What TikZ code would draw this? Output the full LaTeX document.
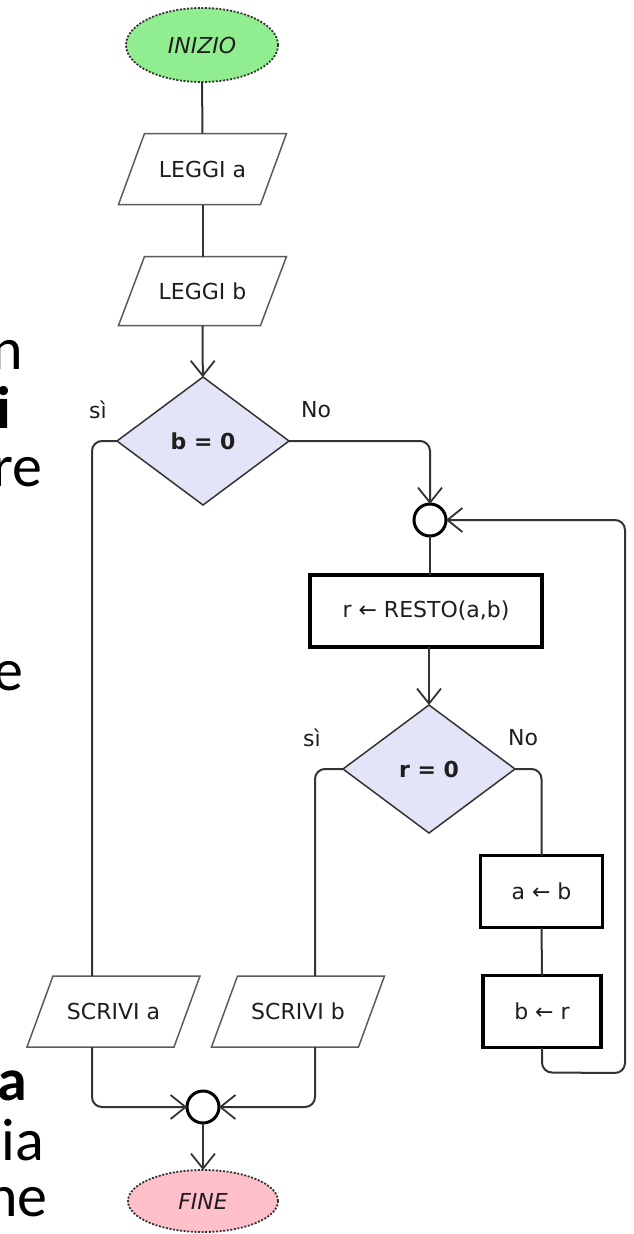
\documentclass[tikz,border=0pt]{standalone}
\usepackage{fontspec}
\setmainfont{DejaVu Sans}
\newfontfamily\fragfont{Carlito}
\usetikzlibrary{shapes.geometric,arrows.meta}
\definecolor{lc}{HTML}{333333}
\definecolor{tc}{HTML}{1E1E1E}
\definecolor{startc}{HTML}{90EE90}
\definecolor{endc}{HTML}{FFC0CB}
\definecolor{decc}{HTML}{E4E4F8}
\tikzset{
  conn/.style={draw=lc, line width=2pt, rounded corners=10pt},
  arr/.style={conn, -{Straight Barb[length=15pt,width=24pt,line width=1.8pt]}},
  term/.style={ellipse, draw=lc, line width=1.8pt, dash pattern=on 2pt off 1.6pt, inner sep=0pt, outer sep=0pt,
     minimum width=152pt, minimum height=74pt, font=\fontsize{22pt}{26pt}\selectfont\itshape, text=tc},
  iobox/.style={rectangle, inner sep=0pt, outer sep=0pt, minimum height=71pt,
     font=\fontsize{22pt}{26pt}\selectfont, text=tc},
  ioline/.style={draw=lc!80, line width=1.5pt, line join=miter},
  procbox/.style={rectangle, draw=black, line width=3.4pt, fill=white, inner sep=0pt, outer sep=0pt,
     minimum height=72pt, font=\fontsize{22pt}{26pt}\selectfont, text=tc},
  decision/.style={diamond, draw=lc, line width=1.5pt, fill=decc, inner sep=0pt, outer sep=0pt,
     minimum width=172pt, minimum height=128pt, font=\fontsize{22pt}{26pt}\selectfont\bfseries, text=tc},
  junction/.style={circle, draw=black, line width=3pt, fill=white, inner sep=0pt, outer sep=0pt, minimum size=32pt},
  lbl/.style={font=\fontsize{22pt}{26pt}\selectfont, text=tc, inner sep=0pt},
  frag/.style={font=\fontsize{60pt}{64pt}\fragfont, text=black, inner sep=0pt, anchor=base east},
}
\begin{document}
\begin{tikzpicture}[x=1pt,y=-1pt]
\useasboundingbox (0,0) rectangle (633,1234);
\clip (0,0) rectangle (633,1234);
\fill[white] (0,0) rectangle (633,1234);

% text fragments at the left edge
\node[frag] (f1) at (23,369) {n};
\node[frag] (f2) at (11,428) {\bfseries i};
\node[frag] (f3) at (43,486) {re};
\node[frag] (f4) at (24,690) {e};
\node[frag] (f5) at (27,1100) {\bfseries a};
\node[frag] (f6) at (44,1160) {ia};
\node[frag] (f7) at (48,1216) {ne};

% nodes
\node[term, fill=startc] (ini) at (202,45) {INIZIO};
\node[iobox, minimum width=142pt] (la) at (202.5,169) {LEGGI a};
\node[iobox, minimum width=142pt, minimum height=69pt] (lb) at (202.5,291) {LEGGI b};
\node[decision] (d1) at (203,441) {b = 0};
\node[lbl] (si1) at (98,410) {sì};
\node[lbl] (no1) at (316,410) {No};
\node[junction] (c1) at (430,520) {};
\node[procbox, minimum width=232pt] (rs) at (426,611) {r ← RESTO(a,b)};
\node[decision] (d2) at (429,769) {r = 0};
\node[lbl] (si2) at (312,738) {sì};
\node[lbl] (no2) at (523,738) {No};
\node[procbox, minimum width=122pt] (ab) at (541.5,891.5) {a ← b};
\node[procbox, minimum width=118pt] (br) at (542,1011.5) {b ← r};
\node[iobox, minimum width=147pt] (sa) at (113.5,1011.5) {SCRIVI a};
\node[iobox, minimum width=147pt] (sb) at (298,1011.5) {SCRIVI b};
\node[junction] (c2) at (203,1107) {};
\node[term, fill=endc, minimum width=150pt, minimum height=62pt] (fine) at (203,1201) {FINE};

% parallelogram outlines
\foreach \n in {la,lb,sa,sb}
  \draw[ioline] ([xshift=13pt]\n.north west) -- ([xshift=13pt]\n.north east)
     -- ([xshift=-13pt]\n.south east) -- ([xshift=-13pt]\n.south west) -- cycle;

% coordinates for off-centre connections
\coordinate (saT) at ([xshift=-21.5pt]sa.north);
\coordinate (saB) at ([xshift=-21.5pt]sa.south);
\coordinate (sbT) at ([xshift=17pt]sb.north);
\coordinate (sbB) at ([xshift=17pt]sb.south);
\coordinate (loopA) at ([yshift=-25pt]br.south);
\coordinate (loopB) at (625,1073);
\coordinate (loopC) at (625,520);

% connectors
\draw[conn] (ini) -- (la);
\draw[conn] (la) -- (lb);
\draw[arr] (lb) -- (d1);
\draw[conn] (d1.west) -| (saT);
\draw[arr] (d1.east) -| (c1.north);
\draw[conn] (c1.south) -- (c1.south |- rs.north);
\draw[arr] (rs.south -| d2.north) -- (d2.north);
\draw[conn] (d2.west) -| (sbT);
\draw[conn] (d2.east) -| (ab.north);
\draw[conn] (ab) -- (br);
\draw[arr] (br.south) -- (loopA -| br.south) -- (loopB) -- (loopC) -- (c1.east);
\draw[arr] (saB) |- (c2.west);
\draw[arr] (sbB) |- (c2.east);
\draw[arr] (c2) -- (fine);
\end{tikzpicture}
\end{document}
